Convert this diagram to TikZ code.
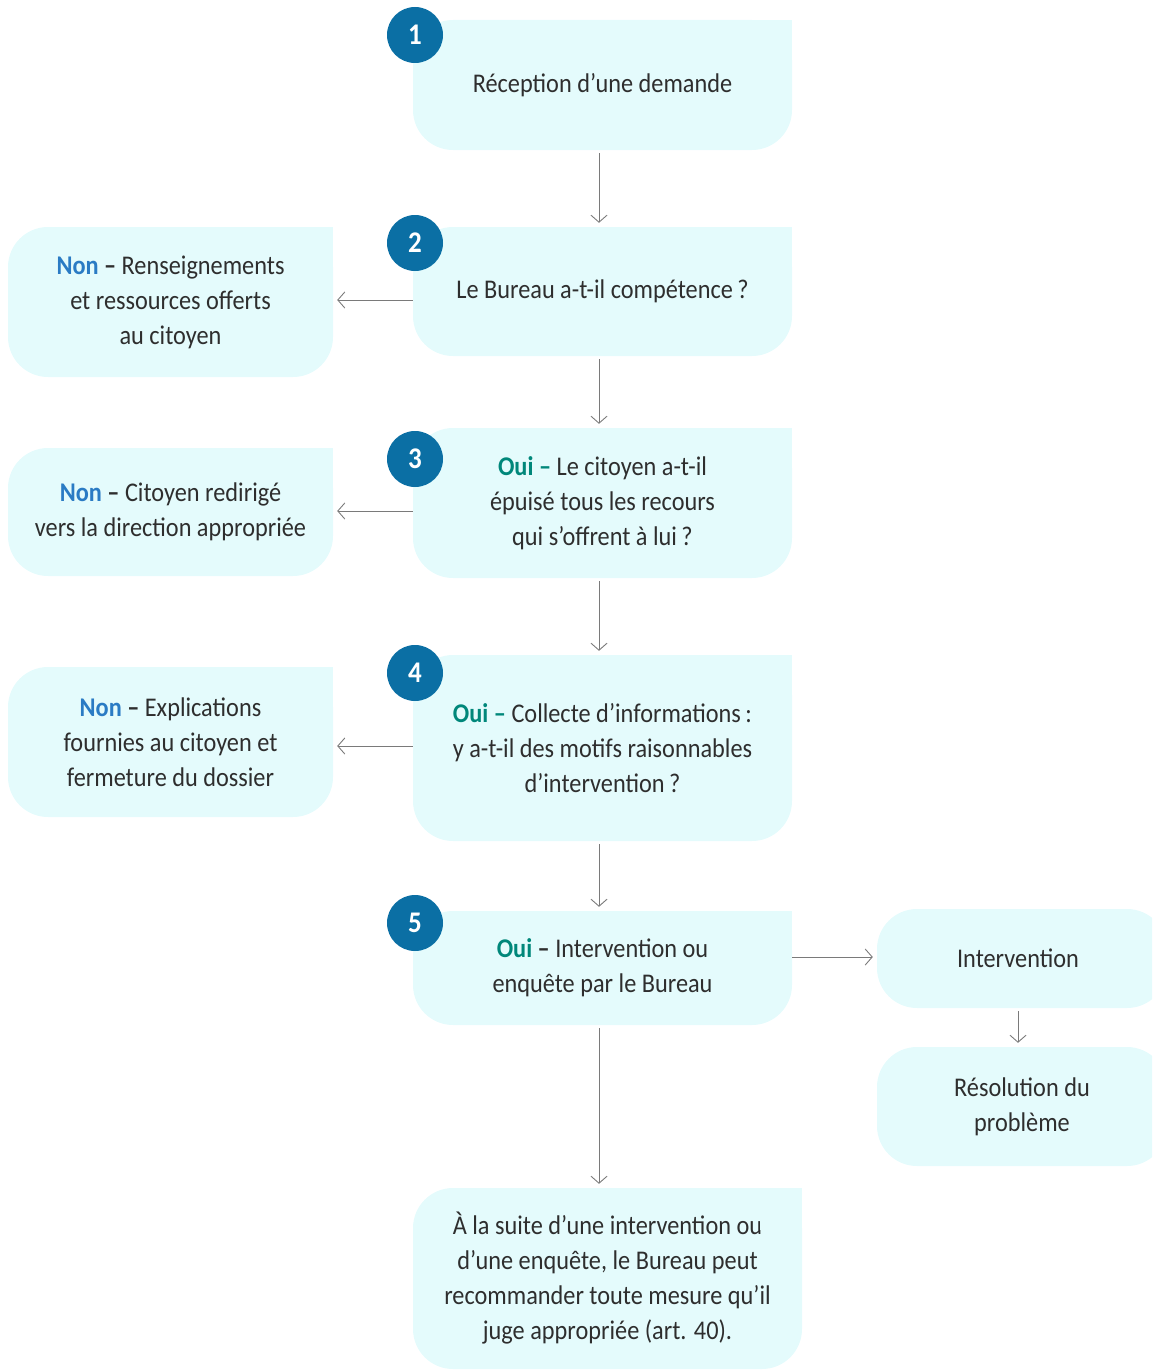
\documentclass[tikz,border=0pt]{standalone}
\usepackage{fontspec}
\setmainfont{Carlito}[FakeStretch=0.9]
\usetikzlibrary{arrows.meta}
\definecolor{obfill} {HTML}{E4FBFC}
\definecolor{obnum}  {HTML}{0B6FA4}
\definecolor{obnon}  {HTML}{2A7BC4}
\definecolor{oboui}  {HTML}{00877A}
\definecolor{obtext} {HTML}{2E2E2E}
\definecolor{obarrow}{HTML}{7A7A7A}
\newcommand{\obnon}{\textbf{\color{obnon}Non}}
\newcommand{\oboui}{\textbf{\color{oboui}Oui}}
% square top right corner on a rounded box
\newcommand{\obcorner}[1]{%
  \fill[obfill] (#1.north east) rectangle ([xshift=-42pt,yshift=-42pt]#1.north east);}

\begin{document}
\begin{tikzpicture}[x=1pt,y=-1pt,
    obbox/.style={fill=obfill, rounded corners=40pt, inner sep=0pt,
      align=center, text=obtext, font=\fontsize{27}{35}\selectfont},
    mainbox/.style={obbox, minimum width=379pt},
    sidebox/.style={obbox, minimum width=325pt},
    obnumber/.style={circle, fill=obnum, text=white, minimum size=56pt,
      inner sep=0pt, font=\fontsize{30}{30}\selectfont\bfseries},
    obline/.style={draw=obarrow, line width=0.9pt,
      -{Straight Barb[length=7pt,width=16pt]}, shorten <=3pt, shorten >=4pt}]
  \useasboundingbox (0,0) rectangle (1152,1370);
  \clip (0,0) rectangle (1152,1370);

  % main column
  \node[mainbox, minimum height=130pt] (b1) at (602.5,85) {Réception d’une demande};
  \node[mainbox, minimum height=129pt] (b2) at (602.5,291.5) {Le Bureau a-t-il compétence\,?};
  \node[mainbox, minimum height=150pt] (b3) at (602.5,503)
    {\textbf{\color{oboui}Oui –} Le citoyen a-t-il\\ épuisé tous les recours\\ qui s’offrent à lui\,?};
  \node[mainbox, minimum height=186pt] (b4) at (602.5,748)
    {\textbf{\color{oboui}Oui –} Collecte d’informations\,:\\ y a-t-il des motifs raisonnables\\ d’intervention\,?};
  \node[mainbox, minimum height=114pt] (b5) at (602.5,968)
    {\oboui{} \textbf{–} Intervention ou\\ enquête par le Bureau};
  \node[obbox, minimum width=389pt, minimum height=181pt] (b6) at (607.5,1278.5)
    {À la suite d’une intervention ou\\ d’une enquête, le Bureau peut\\ recommander toute mesure qu’il\\ juge appropriée (art. 40).};

  % side boxes
  \node[sidebox, minimum height=150pt] (n2) at (170.5,302)
    {\obnon{} \textbf{–} Renseignements\\ et ressources offerts\\ au citoyen};
  \node[sidebox, minimum height=128pt] (n3) at (170.5,512)
    {\obnon{} \textbf{–} Citoyen redirigé\\ vers la direction appropriée};
  \node[sidebox, minimum height=150pt] (n4) at (170.5,742)
    {\obnon{} \textbf{–} Explications\\ fournies au citoyen et\\ fermeture du dossier};
  \node[obbox, minimum width=290pt, minimum height=99pt] (r1) at (1022,958.5)
    {\hspace*{-8pt}Intervention};
  \node[obbox, minimum width=290pt, minimum height=119pt] (r2) at (1022,1106.5)
    {Résolution du\\ problème};

  \foreach \b in {b1,b2,b3,b4,b5,b6,n2,n3,n4}
    \obcorner{\b};

  % numbers
  \node[obnumber] (c1) at (415,35) {1};
  \node[obnumber] (c2) at (415,243) {2};
  \node[obnumber] (c3) at (415,459) {3};
  \node[obnumber] (c4) at (415,673) {4};
  \node[obnumber] (c5) at (415,923) {5};

  % connectors
  \draw[obline] ([xshift=-3.5pt]b1.south) -- ([xshift=-3.5pt]b2.north);
  \draw[obline] ([xshift=-3.5pt]b2.south) -- ([xshift=-3.5pt]b3.north);
  \draw[obline] ([xshift=-3.5pt]b3.south) -- ([xshift=-3.5pt]b4.north);
  \draw[obline] ([xshift=-3.5pt]b4.south) -- ([xshift=-3.5pt]b5.north);
  \draw[obline] ([xshift=-3.5pt]b5.south) -- ([xshift=-8.5pt]b6.north);
  \draw[obline, shorten <=0pt] (b2.west |- 0,300) -- (n2.east |- 0,300);
  \draw[obline, shorten <=0pt] (b3.west |- 0,511) -- (n3.east |- 0,511);
  \draw[obline, shorten <=0pt] (b4.west |- 0,746) -- (n4.east |- 0,746);
  \draw[obline, shorten <=0pt] (b5.east |- 0,957) -- (r1.west |- 0,957);
  \draw[obline] ([xshift=-4pt]r1.south) -- ([xshift=-4pt]r2.north);
\end{tikzpicture}
\end{document}
